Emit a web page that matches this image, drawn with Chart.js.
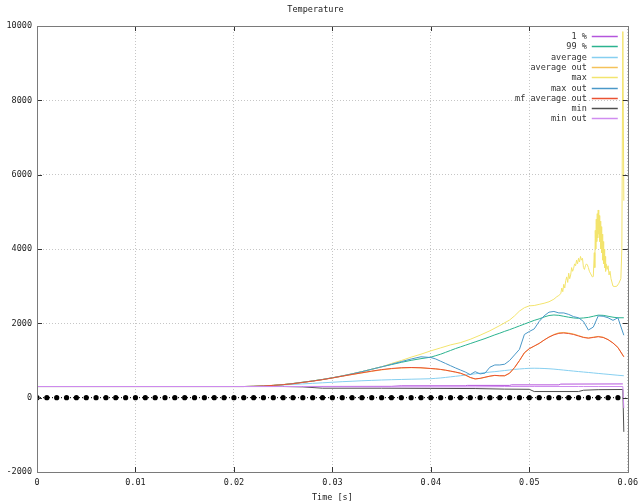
<!DOCTYPE html>
<html><head><meta charset="utf-8">
<script src="https://cdn.jsdelivr.net/npm/chart.js@4/dist/chart.umd.min.js"></script>
<style>html,body{margin:0;padding:0;background:#fff;}canvas{display:block;}</style>
</head><body>
<canvas id="c" width="644" height="503"></canvas>
<script>
// ---------- DATA ----------
const chartTitle = 'Temperature';
const xAxisTitle = 'Time [s]';
const xTickLabels = ['0','0.01','0.02','0.03','0.04','0.05','0.06'];
const yTickLabels = ['-2000','0','2000','4000','6000','8000','10000'];

const timeGrid = [0, 0.020, 0.021, 0.022, 0.023, 0.024, 0.025, 0.026, 0.027, 0.028, 0.029,
  0.030, 0.031, 0.032, 0.033, 0.034, 0.035, 0.036, 0.037, 0.038, 0.039, 0.040,
  0.0405, 0.041, 0.0415, 0.042, 0.0425, 0.043, 0.0435, 0.044, 0.0445, 0.045,
  0.0455, 0.046, 0.0465, 0.047, 0.0475, 0.048, 0.0485, 0.049, 0.0495, 0.050,
  0.0505, 0.051, 0.0515, 0.052, 0.0525, 0.053, 0.0535, 0.054, 0.0545, 0.055,
  0.0555, 0.056, 0.0565, 0.057, 0.0575, 0.058, 0.0585, 0.059, 0.0596];

const p99Vals = [300, 300, 300, 305, 315, 330, 350, 380, 415, 450, 490,
  535, 585, 640, 700, 765, 830, 890, 950, 1005, 1050, 1090,
  1130, 1170, 1220, 1270, 1320, 1365, 1410, 1455, 1500, 1545,
  1590, 1640, 1690, 1735, 1785, 1830, 1880, 1930, 1980, 2030,
  2080, 2120, 2170, 2210, 2225, 2215, 2190, 2165, 2145, 2135,
  2145, 2160, 2190, 2220, 2215, 2190, 2165, 2150, 2150];

const averageVals = [300, 300, 300, 305, 315, 328, 342, 356, 370, 385, 400,
  415, 430, 442, 455, 465, 475, 483, 490, 497, 503, 510,
  520, 530, 545, 560, 575, 590, 607, 625, 642, 658,
  673, 688, 700, 715, 730, 745, 760, 772, 782, 790,
  792, 790, 785, 778, 768, 755, 742, 728, 715, 702,
  690, 678, 665, 652, 640, 628, 615, 603, 590];

const averageOutVals = [300, 300, 300, 306, 317, 333, 354, 380, 414, 448, 487,
  531, 578, 622, 665, 708, 748, 778, 798, 806, 800, 782,
  772, 757, 737, 712, 686, 655, 605, 540, 502, 517,
  547, 577, 597, 588, 588, 655, 805, 995, 1200, 1312,
  1385, 1456, 1548, 1632, 1700, 1745, 1755, 1738, 1712, 1670,
  1628, 1608, 1628, 1648, 1626, 1565, 1474, 1352, 1100];

const maxOutVals = [300, 300, 300, 305, 315, 330, 350, 380, 415, 450, 490,
  535, 585, 640, 700, 765, 830, 900, 970, 1040, 1100, 1080,
  1040, 980, 920, 860, 800, 745, 690, 620, 700, 640,
  660, 820, 880, 880, 900, 1000, 1150, 1300, 1700, 1780,
  1850, 2050, 2200, 2300, 2320, 2280, 2280, 2240, 2180, 2150,
  2050, 1820, 1900, 2200, 2190, 2150, 2080, 2150, 1680];

const mfAverageOutVals = [300, 300, 300, 305, 315, 330, 350, 375, 410, 445, 485,
  530, 578, 625, 670, 715, 755, 785, 805, 812, 805, 785,
  775, 760, 740, 715, 690, 660, 610, 545, 505, 520,
  550, 580, 600, 590, 590, 660, 810, 1000, 1210, 1320,
  1390, 1460, 1550, 1630, 1690, 1730, 1740, 1725, 1700, 1660,
  1620, 1600, 1620, 1640, 1620, 1560, 1470, 1350, 1100];

const maxTime = [0, 0.020, 0.021, 0.022, 0.023, 0.024, 0.025, 0.026, 0.027, 0.028, 0.029,
  0.030, 0.031, 0.032, 0.033, 0.034, 0.035, 0.036, 0.037, 0.038, 0.039,
  0.040, 0.041, 0.042, 0.043, 0.044, 0.045, 0.046, 0.047, 0.048, 0.0485,
  0.049, 0.0495, 0.050, 0.0505, 0.051, 0.0515, 0.052, 0.0525, 0.0528, 0.053,
  0.0532, 0.0533, 0.0534, 0.0535, 0.0536, 0.0537, 0.0538, 0.0539, 0.054, 0.0541,
  0.0542, 0.0543, 0.0544, 0.0545, 0.0546, 0.0547, 0.0548, 0.0549, 0.055, 0.0551,
  0.0552, 0.0553, 0.0554, 0.0555, 0.0556, 0.0557, 0.0558, 0.0559, 0.056, 0.0561,
  0.0562, 0.0563, 0.0564, 0.0565, 0.0566, 0.05665, 0.0567, 0.05675, 0.0568, 0.05685,
  0.0569, 0.05695, 0.057, 0.05705, 0.0571, 0.05715, 0.0572, 0.05725, 0.0573, 0.05735,
  0.0574, 0.05745, 0.0575, 0.05755, 0.0576, 0.05765, 0.0577, 0.05775, 0.0578, 0.0579,
  0.058, 0.0581, 0.0582, 0.0583, 0.0585, 0.0587, 0.0589, 0.0591, 0.0593, 0.0594,
  0.0595, 0.0596];
const maxVals = [300, 300, 300, 305, 315, 330, 350, 380, 415, 450, 490,
  535, 585, 640, 700, 765, 830, 920, 1000, 1090, 1170,
  1260, 1340, 1420, 1480, 1570, 1680, 1800, 1940, 2090, 2200,
  2330, 2420, 2470, 2480, 2510, 2540, 2580, 2650, 2717, 2750,
  2800, 2950, 2850, 3050, 2950, 3150, 3250, 3100, 3350, 3200,
  3300, 3500, 3400, 3480, 3600, 3550, 3700, 3600, 3750, 3650,
  3800, 3700, 3750, 3500, 3450, 3550, 3600, 3570, 3500, 3400,
  3350, 3300, 3250, 3260, 3900, 3500, 4500, 4000, 4800, 4200,
  4950, 4300, 5050, 4400, 4900, 4200, 4750, 4000, 4600, 3900,
  4400, 3700, 4200, 3600, 4000, 3500, 3800, 3400, 3600, 3450,
  3550, 3300, 3400, 3200, 3000, 2990, 3000, 3080, 3200, 4000,
  9850, 5300];

const p1Time = [0, 0.024, 0.036, 0.037, 0.0435, 0.0437, 0.048, 0.0482, 0.053, 0.0532, 0.0595];
const p1Vals = [300, 300, 305, 320, 320, 330, 330, 345, 345, 365, 370];

const minTime = [0, 0.020, 0.025, 0.027, 0.029, 0.035, 0.040, 0.0445, 0.0475, 0.050, 0.0505, 0.055, 0.0555, 0.057, 0.0595, 0.0596];
const minVals = [300, 300, 300, 290, 255, 255, 250, 245, 230, 225, 165, 165, 200, 215, 220, -920];
const minOutVals = [300, 300, 300, 300, 295, 290, 290, 290, 300, 300, 300, 300, 300, 300, 300, -280];

const markerTime = [0, 0.001, 0.002, 0.003, 0.004, 0.005, 0.006, 0.007, 0.008, 0.009,
  0.010, 0.011, 0.012, 0.013, 0.014, 0.015, 0.016, 0.017, 0.018, 0.019,
  0.020, 0.021, 0.022, 0.023, 0.024, 0.025, 0.026, 0.027, 0.028, 0.029,
  0.030, 0.031, 0.032, 0.033, 0.034, 0.035, 0.036, 0.037, 0.038, 0.039,
  0.040, 0.041, 0.042, 0.043, 0.044, 0.045, 0.046, 0.047, 0.048, 0.049,
  0.050, 0.051, 0.052, 0.053, 0.054, 0.055, 0.056, 0.057, 0.058, 0.059];
const markerVals = [0, 0, 0, 0, 0, 0, 0, 0, 0, 0,
  0, 0, 0, 0, 0, 0, 0, 0, 0, 0,
  0, 0, 0, 0, 0, 0, 0, 0, 0, 0,
  0, 0, 0, 0, 0, 0, 0, 0, 0, 0,
  0, 0, 0, 0, 0, 0, 0, 0, 0, 0,
  0, 0, 0, 0, 0, 0, 0, 0, 0, 0];

// ---------- STYLE ----------
const FONT = "'DejaVu Sans Mono', 'Liberation Mono', monospace";
const FS = 8.5;
function pts(xs, ys) { return xs.map((x, i) => ({ x: x, y: ys[i] })); }

const seriesDefs = [
  { label: '1 %', t: p1Time, v: p1Vals, color: '#b455dc' },
  { label: '99 %', t: timeGrid, v: p99Vals, color: '#2bb38f' },
  { label: 'average', t: timeGrid, v: averageVals, color: '#86cff0' },
  { label: 'average out', t: timeGrid, v: averageOutVals, color: '#f4c25a' },
  { label: 'max', t: maxTime, v: maxVals, color: '#f3e46e' },
  { label: 'max out', t: timeGrid, v: maxOutVals, color: '#4a98c8' },
  { label: 'mf average out', t: timeGrid, v: mfAverageOutVals, color: '#ea5233' },
  { label: 'min', t: minTime, v: minVals, color: '#505050' },
  { label: 'min out', t: minTime, v: minOutVals, color: '#d08cf0' }
];
const N = seriesDefs.length;
const datasets = seriesDefs.map((s, i) => ({
  label: s.label, data: pts(s.t, s.v), borderColor: s.color, backgroundColor: s.color,
  borderWidth: 1, pointRadius: 0, tension: 0, fill: false, order: N - i
}));
datasets.push({
  label: '', data: pts(markerTime, markerVals), borderColor: '#000', backgroundColor: '#000',
  borderWidth: 1, borderDash: [1, 2], pointRadius: 2.6, pointBorderWidth: 0,
  pointBackgroundColor: '#000', tension: 0, order: -1
});

const frame = {
  id: 'frame',
  afterDraw(chart) {
    const { ctx, chartArea: a, scales } = chart;
    ctx.save();
    ctx.setLineDash([]);
    ctx.strokeStyle = '#333';
    ctx.lineWidth = 1;
    const L = 5;
    scales.x.ticks.forEach(tk => {
      const px = Math.round(scales.x.getPixelForValue(tk.value)) + 0.5;
      ctx.beginPath();
      ctx.moveTo(px, a.bottom); ctx.lineTo(px, a.bottom - L);
      ctx.moveTo(px, a.top); ctx.lineTo(px, a.top + L);
      ctx.stroke();
    });
    scales.y.ticks.forEach(tk => {
      const py = Math.round(scales.y.getPixelForValue(tk.value)) + 0.5;
      ctx.beginPath();
      ctx.moveTo(a.left, py); ctx.lineTo(a.left + L, py);
      ctx.moveTo(a.right, py); ctx.lineTo(a.right - L, py);
      ctx.stroke();
    });
    ctx.strokeStyle = '#7a7a7a';
    ctx.strokeRect(Math.round(a.left) + 0.5, Math.round(a.top) + 0.5,
      Math.round(a.right - a.left), Math.round(a.bottom - a.top));
    // legend (gnuplot style: text right-aligned, sample on right)
    ctx.font = FS + 'px ' + FONT;
    ctx.textAlign = 'right';
    ctx.textBaseline = 'middle';
    let k = 0;
    chart.data.datasets.forEach(ds => {
      if (!ds.label) return;
      const y = Math.round(a.top + 10 + k * 10.3) + 0.5;
      ctx.fillStyle = '#333';
      ctx.fillText(ds.label, a.right - 41, y);
      ctx.strokeStyle = ds.borderColor;
      ctx.lineWidth = 1.5;
      ctx.beginPath(); ctx.moveTo(a.right - 36, y); ctx.lineTo(a.right - 10, y); ctx.stroke();
      k++;
    });
    ctx.restore();
  }
};

new Chart(document.getElementById('c'), {
  type: 'line',
  data: { datasets: datasets },
  options: {
    responsive: false, animation: false, devicePixelRatio: 1,
    layout: { padding: { left: 0, right: 13, top: 0, bottom: 0 } },
    plugins: {
      legend: { display: false },
      tooltip: { enabled: false },
      title: { display: true, text: chartTitle, color: '#222',
        font: { family: FONT, size: FS, weight: 'normal' }, padding: { top: 5, bottom: 10.8 } }
    },
    scales: {
      x: {
        type: 'linear', min: 0, max: 0.06,
        afterFit: s => { s.height = 31; },
        ticks: { stepSize: 0.01, color: '#222', padding: 6, maxRotation: 0,
          font: { family: FONT, size: FS },
          callback: (v) => xTickLabels[Math.round(v / 0.01)] },
        grid: { color: '#c6c6c6', lineWidth: 1, drawTicks: false },
        border: { display: false, dash: [1, 2] },
        title: { display: true, text: xAxisTitle, color: '#222',
          font: { family: FONT, size: FS }, padding: { top: 0, bottom: 0 } }
      },
      y: {
        type: 'linear', min: -2000, max: 10000,
        afterFit: s => { s.width = 37; },
        ticks: { stepSize: 2000, color: '#222', padding: 5,
          font: { family: FONT, size: FS },
          callback: (v) => yTickLabels[Math.round((v + 2000) / 2000)] },
        grid: { color: '#c6c6c6', lineWidth: 1, drawTicks: false },
        border: { display: false, dash: [1, 2] }
      }
    }
  },
  plugins: [frame]
});
</script>
</body></html>
